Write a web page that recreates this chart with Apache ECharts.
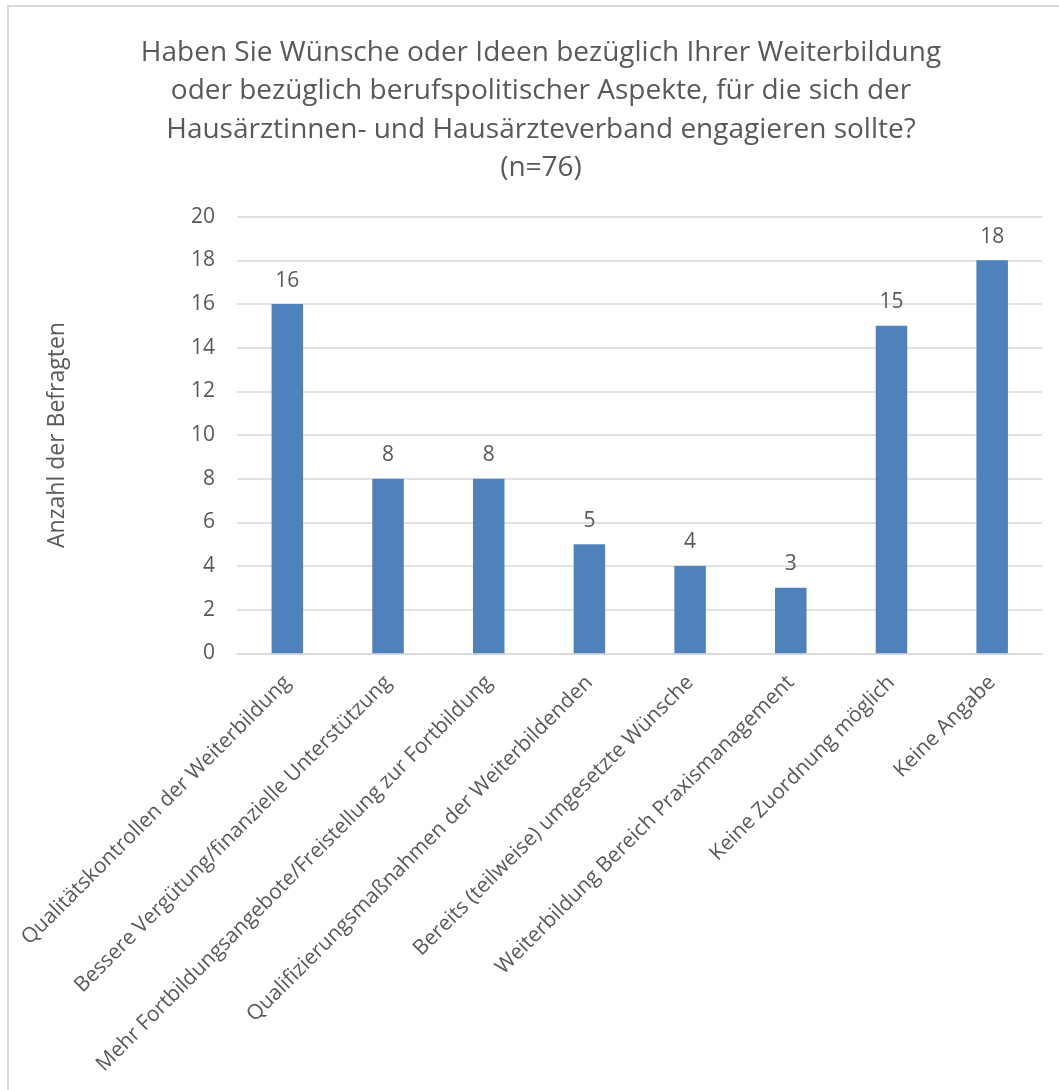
<!DOCTYPE html>
<html>
<head>
<meta charset="utf-8">
<script src="https://cdn.jsdelivr.net/npm/echarts@6/dist/echarts.min.js"></script>
<style>
  html, body { margin: 0; padding: 0; width: 1059px; height: 1090px; overflow: hidden; background: #fff; }
  #frame { position: absolute; left: 7px; top: 5px; width: 1080px; height: 1120px; border: 2px solid #d9d9d9; box-sizing: border-box; }
  #chart { position: absolute; left: 8px; top: 6px; width: 1066px; height: 1100px; }
</style>
</head>
<body>
<div id="frame"></div>
<div id="chart"></div>
<script>
// Survey answers (n=76)
const categories = [
  'Qualitätskontrollen der Weiterbildung',
  'Bessere Vergütung/finanzielle Unterstützung',
  'Mehr Fortbildungsangebote/Freistellung zur Fortbildung',
  'Qualifizierungsmaßnahmen der Weiterbildenden',
  'Bereits (teilweise) umgesetzte Wünsche',
  'Weiterbildung Bereich Praxismanagement',
  'Keine Zuordnung möglich',
  'Keine Angabe'
];
const counts = [16, 8, 8, 5, 4, 3, 15, 18];
const titleLines = [
  'Haben Sie Wünsche oder Ideen bezüglich Ihrer Weiterbildung',
  'oder bezüglich berufspolitischer Aspekte, für die sich der',
  'Hausärztinnen- und Hausärzteverband engagieren sollte?',
  '(n=76)'
];
const yAxisName = 'Anzahl der Befragten';

const FONT = '"Open Sans", sans-serif';
const TEXT = '#595959';
const GRID = '#d9d9d9';

const chart = echarts.init(document.getElementById('chart'), null, { renderer: 'canvas' });
chart.setOption({
  animation: false,
  backgroundColor: 'transparent',
  textStyle: { fontFamily: FONT, color: TEXT },
  title: {
    text: titleLines.join('\n'),
    left: 'center',
    top: 23,
    textStyle: { fontFamily: FONT, fontSize: 28, fontWeight: 'normal', color: TEXT, lineHeight: 38.3 }
  },
  grid: { left: 229, top: 210.7, width: 805.5, height: 436.6, containLabel: false },
  xAxis: {
    type: 'category',
    data: categories,
    axisLine: { show: true, lineStyle: { color: GRID, width: 1.5 } },
    axisTick: { show: false },
    axisLabel: { interval: 0, rotate: 45, margin: 26, fontSize: 21, color: TEXT, fontFamily: FONT }
  },
  yAxis: {
    type: 'value',
    min: 0,
    max: 20,
    interval: 2,
    name: yAxisName,
    nameLocation: 'middle',
    nameGap: 168,
    nameRotate: 90,
    nameTextStyle: { fontSize: 23, color: TEXT, fontFamily: FONT },
    axisLine: { show: false },
    axisTick: { show: false },
    axisLabel: { margin: 22, fontSize: 21, color: TEXT, fontFamily: FONT },
    splitLine: { lineStyle: { color: GRID, width: 1.5 } }
  },
  series: [{
    type: 'bar',
    data: counts,
    barWidth: 31.5,
    itemStyle: { color: '#4f81bd' },
    label: {
      show: true,
      position: 'top',
      distance: 13,
      fontSize: 21,
      color: TEXT,
      fontFamily: FONT
    }
  }]
});
</script>
</body>
</html>
